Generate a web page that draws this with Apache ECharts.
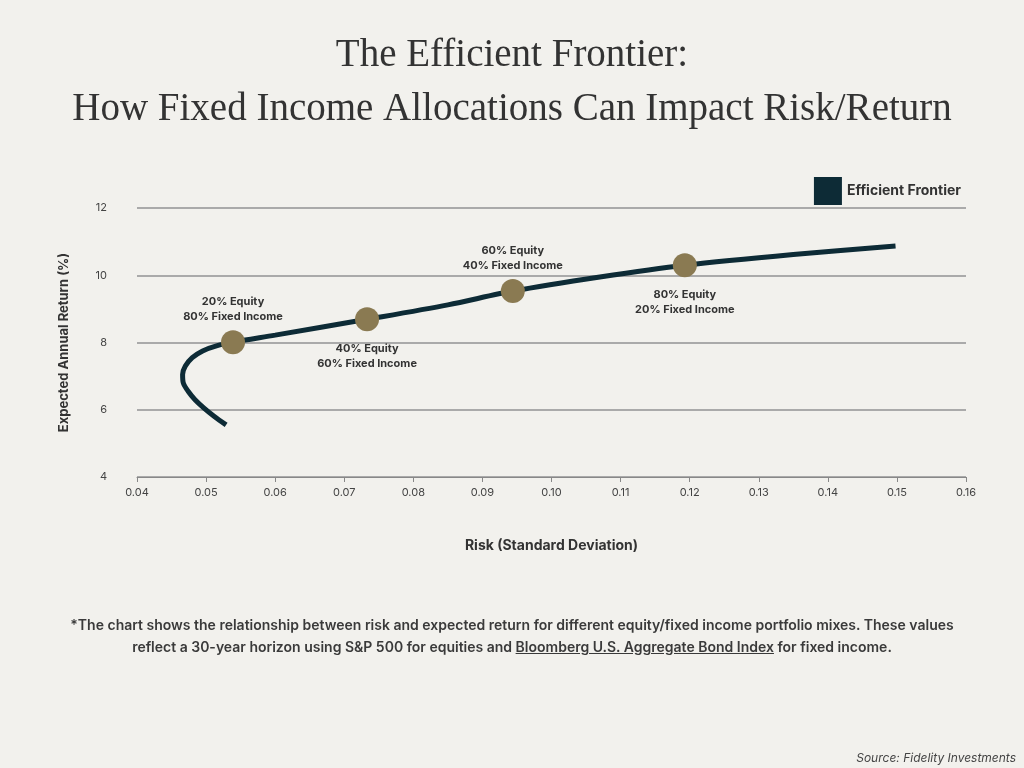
<!DOCTYPE html>
<html><head><meta charset="utf-8">
<script src="https://cdn.jsdelivr.net/npm/echarts@6/dist/echarts.min.js"></script>
<style>
body{margin:0;background:#f2f1ed;}
#c{position:absolute;left:0;top:0;width:1024px;height:768px;}
#note{position:absolute;left:48px;width:928px;top:614px;text-align:center;font:600 14px/22px Inter,"Noto Sans",sans-serif;color:#3a3a3a;}
#note u{text-decoration:underline;}
#src{position:absolute;right:8px;top:750px;font:italic 12px Inter,sans-serif;color:#444;}
</style></head><body>
<div id="c"></div>
<div id="note">*The chart shows the relationship between risk and expected return for different equity/fixed income portfolio mixes. These values reflect a 30-year horizon using S&amp;P 500 for equities and <u>Bloomberg U.S. Aggregate Bond Index</u> for fixed income.</div>
<div id="src">Source: Fidelity Investments</div>
<script>
const frontierRisk = [0.0529,0.0512,0.0497,0.0484,0.0474,0.0467,0.0466,0.0470,0.0480,0.0495,0.0515,0.0539,0.0600,0.0733,0.0850,0.0944,0.1070,0.1193,0.1350,0.1498];
const frontierReturn = [5.55,5.80,6.05,6.30,6.55,6.80,7.05,7.30,7.55,7.75,7.90,8.01,8.22,8.69,9.12,9.53,9.95,10.30,10.62,10.87];
const mixRisk = [0.0539,0.0733,0.0944,0.1193];
const mixReturn = [8.01,8.69,9.53,10.30];
const mixLabels = ["20% Equity\n80% Fixed Income","40% Equity\n60% Fixed Income","60% Equity\n40% Fixed Income","80% Equity\n20% Fixed Income"];
const mixLabelPos = ["top","bottom","top","bottom"];
const font = 'Inter, "Noto Sans", sans-serif';
const chart = echarts.init(document.getElementById('c'));
chart.setOption({
  backgroundColor:'#f2f1ed',
  title:{text:'The Efficient Frontier:\nHow Fixed Income Allocations Can Impact Risk/Return',left:'center',top:24,
    textStyle:{fontFamily:'"Liberation Serif",serif',fontWeight:'normal',fontSize:39,lineHeight:54,color:'#333'}},
  legend:{data:['Efficient Frontier'],right:58,top:172,itemWidth:28,itemHeight:28,icon:'rect',
    textStyle:{fontFamily:font,fontWeight:'bold',fontSize:14,color:'#333'}},
  grid:{left:137,right:58,top:208,bottom:291},
  xAxis:{type:'value',min:0.04,max:0.16,interval:0.01,name:'Risk (Standard Deviation)',nameLocation:'middle',nameGap:62,
    nameTextStyle:{fontFamily:font,fontWeight:'bold',fontSize:14,color:'#333'},
    axisLine:{lineStyle:{color:'#888'}},axisTick:{show:true,lineStyle:{color:'#888'}},
    splitLine:{show:false},axisLabel:{fontFamily:font,fontSize:11,color:'#444',margin:10,formatter:v=>v.toFixed(2)}},
  yAxis:{type:'value',min:4,max:12,interval:2,name:'Expected Annual Return (%)',nameLocation:'middle',nameGap:66,
    nameTextStyle:{fontFamily:font,fontWeight:'bold',fontSize:13,color:'#333'},
    axisLine:{show:false},axisTick:{show:false},
    splitLine:{lineStyle:{color:'#aaa',width:2}},axisLabel:{fontFamily:font,fontSize:11,color:'#444',margin:30}},
  series:[
    {name:'Efficient Frontier',type:'line',smooth:0.3,showSymbol:false,symbol:'none',color:'#0d2b36',
     lineStyle:{color:'#0d2b36',width:5},data:frontierRisk.map((x,i)=>[x,frontierReturn[i]]),z:2},
    {name:'mix',type:'scatter',symbolSize:24,itemStyle:{color:'#8a7a52',opacity:1},z:3,
     data:mixRisk.map((x,i)=>({value:[x,mixReturn[i]],label:{show:true,position:mixLabelPos[i],distance:mixLabelPos[i]==='top'?6:10,
       formatter:mixLabels[i],fontFamily:font,fontWeight:'bold',fontSize:11,lineHeight:15,color:'#333'}}))}
  ]
});
</script></body></html>
